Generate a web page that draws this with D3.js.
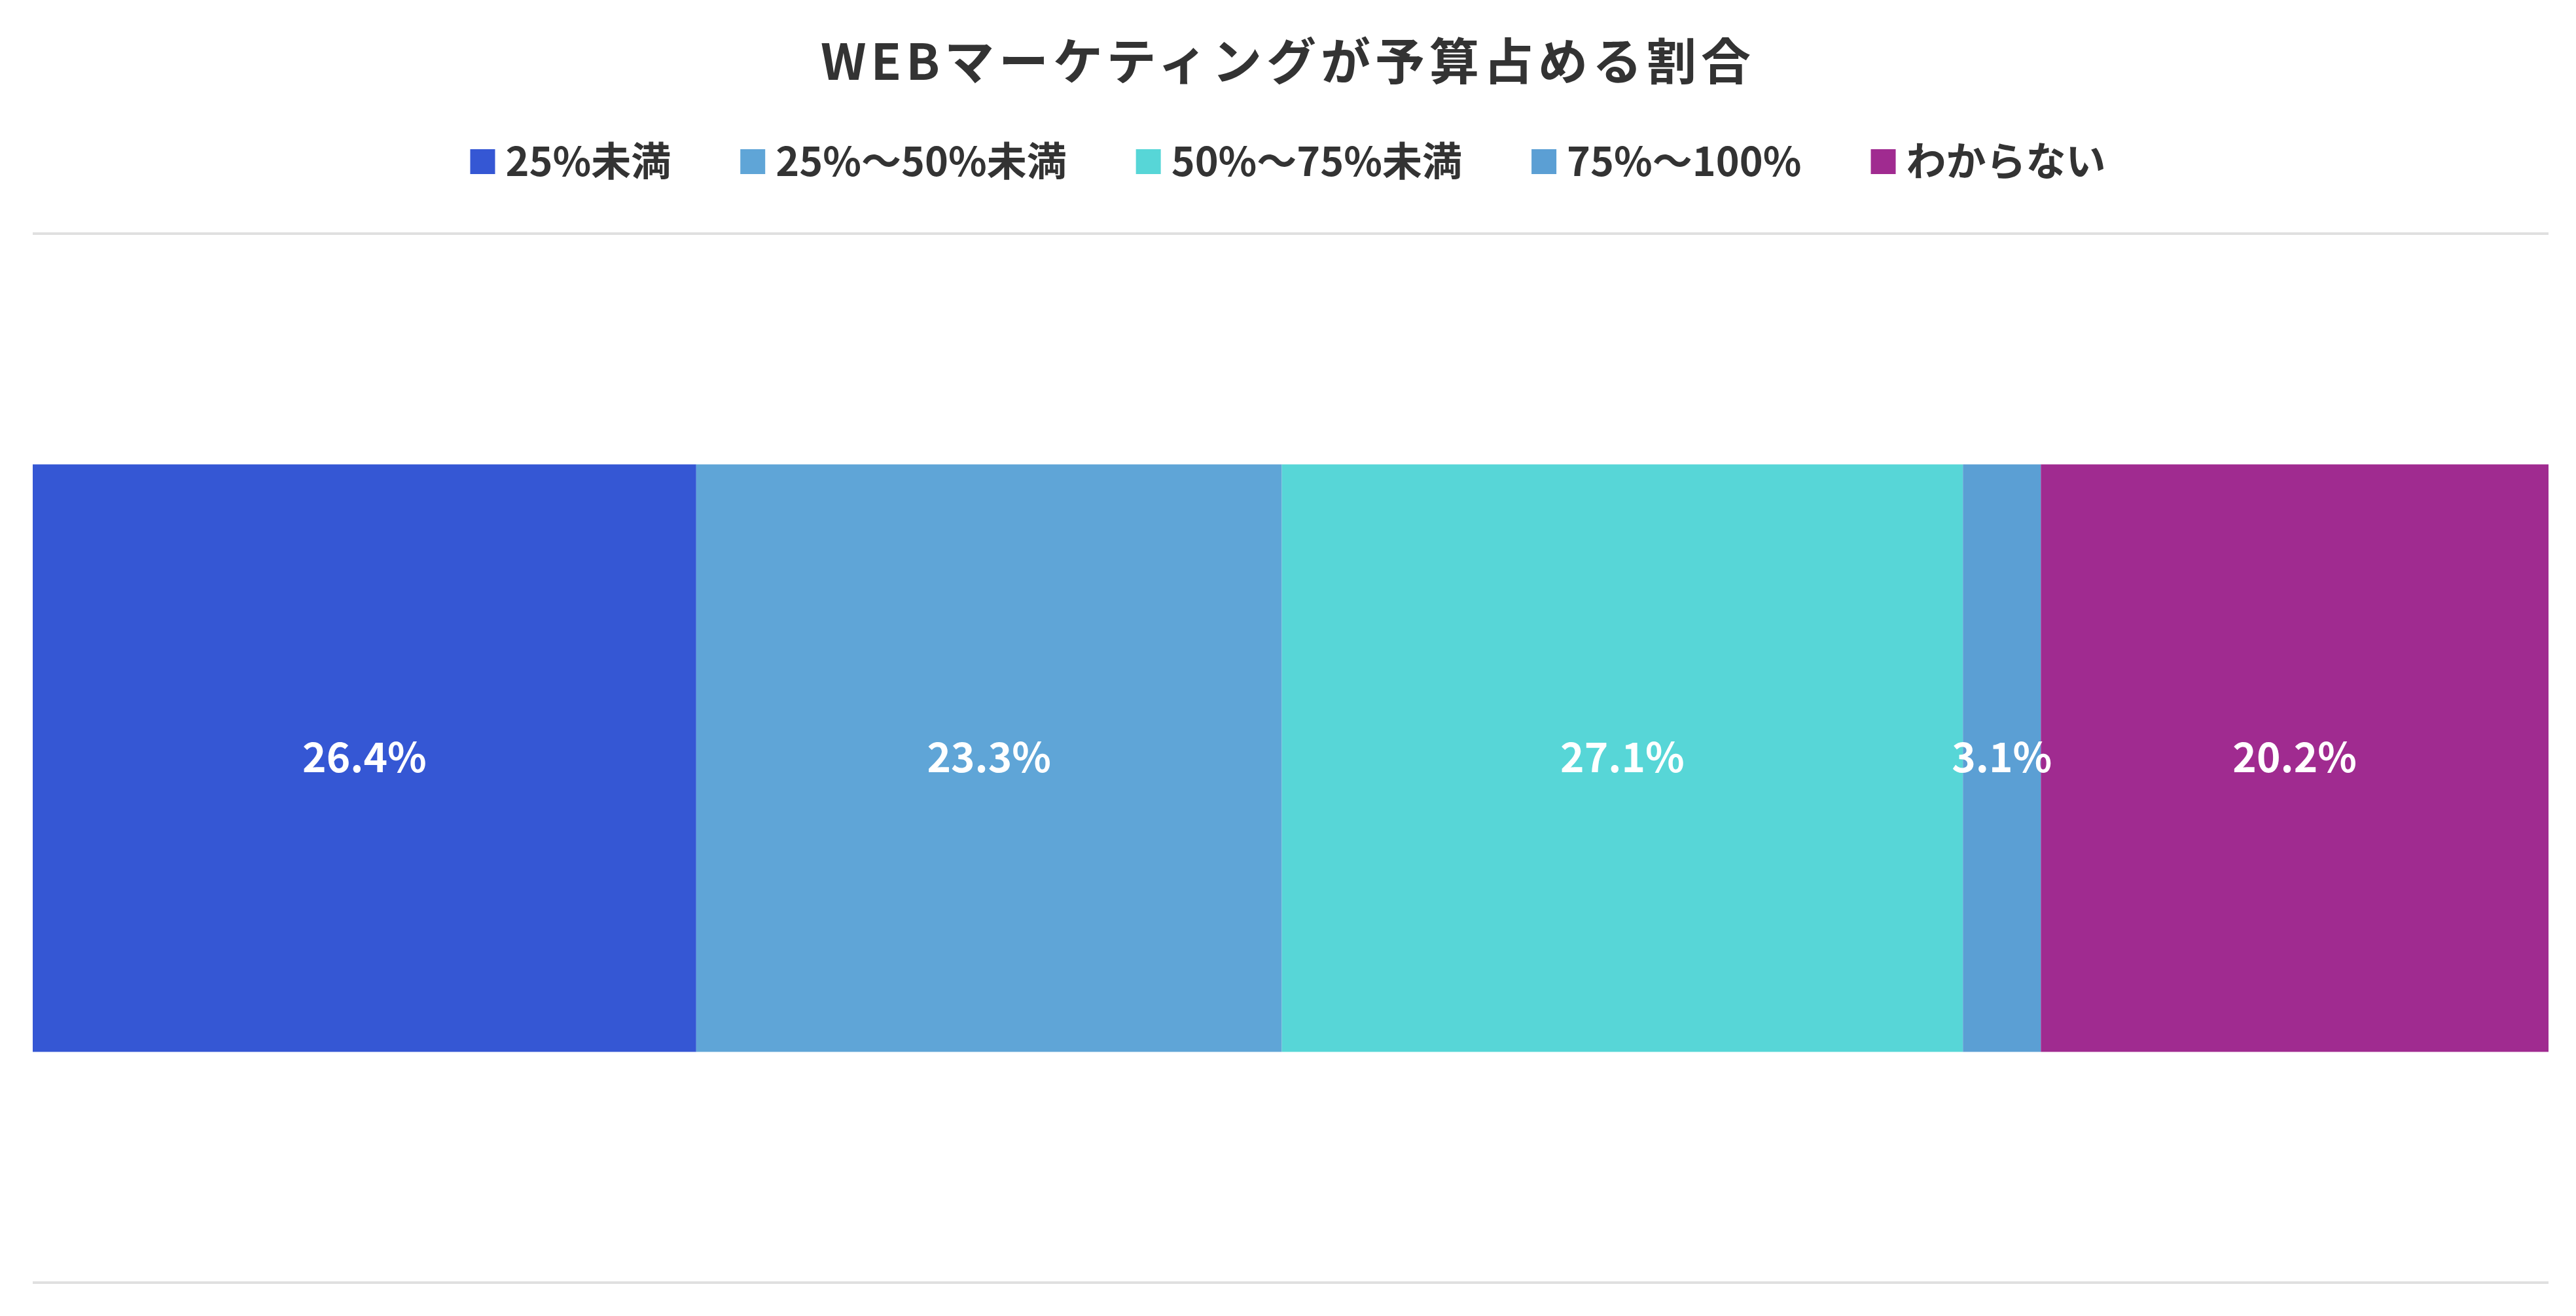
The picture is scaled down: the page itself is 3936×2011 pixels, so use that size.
<!DOCTYPE html>
<html><head><meta charset="utf-8">
<script src="https://cdn.jsdelivr.net/npm/d3@7"></script>
<style>body{margin:0;background:#fff}text{font-family:"Noto Sans CJK JP","Noto Sans",sans-serif}</style>
</head><body><svg id="c"></svg>
<script>
const categories = ['25%未満', '25%～50%未満', '50%～75%未満', '75%～100%', 'わからない'];
const values = [26.4, 23.3, 27.1, 3.1, 20.2];
const colors = ['#3557d4', '#5fa5d7', '#57d6d7', '#5b9fd4', '#a02b90'];

const width = 3936, height = 2011;
const margin = { left: 50, right: 42 };
const svg = d3.select('#c').attr('width', width).attr('height', height);

svg.append('text').attr('x', width / 2).attr('y', 122).attr('text-anchor', 'middle')
  .attr('font-size', 76).attr('font-weight', 700).attr('fill', '#333')
  .attr('letter-spacing', 7).text('WEBマーケティングが予算占める割合');

// legend, centered
const lg = svg.append('g');
const gap = 106;
let lx = 0;
categories.forEach((c, i) => {
  const g = lg.append('g').attr('transform', `translate(${lx},0)`);
  g.append('rect').attr('x', 0).attr('y', -20).attr('width', 38).attr('height', 38).attr('fill', colors[i]);
  const t = g.append('text').attr('x', 54).attr('y', 0).attr('dy', '0.35em')
    .attr('font-size', 61).attr('font-weight', 700).attr('fill', '#333').text(c);
  lx += 54 + t.node().getComputedTextLength() + gap;
});
lx -= gap;
lg.attr('transform', `translate(${(width - lx) / 2},248)`);

// gridlines
[357, 1960].forEach(y => svg.append('line').attr('x1', margin.left).attr('x2', width - margin.right)
  .attr('y1', y).attr('y2', y).attr('stroke', '#e0e0e0').attr('stroke-width', 4));

const total = d3.sum(values);
const x = d3.scaleLinear().domain([0, total]).range([margin.left, width - margin.right]);
const y = d3.scaleBand().domain(['all']).range([357, 1960]).padding(0.282);
const stacked = values.map((v, i) => ({ v, i, x0: d3.sum(values.slice(0, i)) }));

svg.selectAll('rect.bar').data(stacked).join('rect').attr('class', 'bar')
  .attr('x', d => x(d.x0)).attr('width', d => x(d.x0 + d.v) - x(d.x0))
  .attr('y', y('all')).attr('height', y.bandwidth()).attr('fill', d => colors[d.i]);

svg.selectAll('text.lbl').data(stacked).join('text').attr('class', 'lbl')
  .attr('x', d => x(d.x0 + d.v / 2)).attr('y', y('all') + y.bandwidth() / 2).attr('dy', '0.35em')
  .attr('text-anchor', 'middle').attr('font-size', 62).attr('font-weight', 700).attr('fill', '#fff')
  .text(d => d.v.toFixed(1) + '%');
</script></body></html>
